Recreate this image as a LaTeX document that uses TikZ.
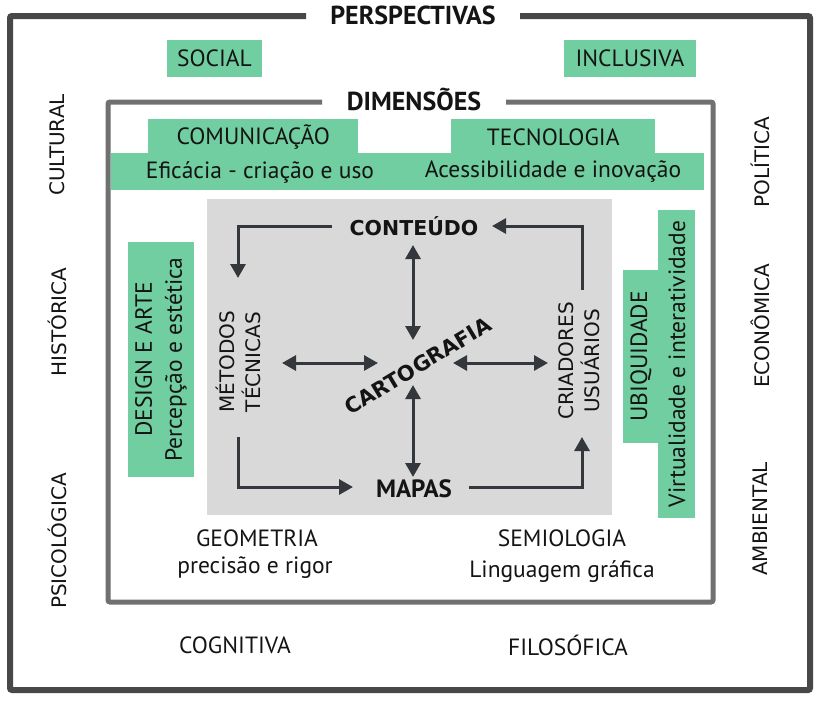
\documentclass[tikz,border=0pt]{standalone}
\usepackage{fontspec}
\setmainfont{PT Sans}
\newfontfamily\vfont{DejaVu Sans}
\usetikzlibrary{arrows.meta}
\definecolor{mint}{RGB}{112,206,160}
\definecolor{frameA}{RGB}{72,72,72}
\definecolor{frameB}{RGB}{112,112,112}
\definecolor{sq}{RGB}{217,217,217}
\definecolor{arrc}{RGB}{52,56,61}
\definecolor{txt}{RGB}{20,20,20}
\tikzset{
  gbox/.style={fill=mint, inner sep=0pt, text=txt},
  lab/.style={text=txt, font=\fontsize{23.5}{26}\selectfont, inner sep=0pt},
  vlab/.style={text=txt, font=\vfont\fontsize{20}{23}\selectfont, inner sep=0pt, rotate=90},
  ttl/.style={text=txt, font=\bfseries\fontsize{26}{28}\selectfont, inner sep=0pt},
  arr/.style={draw=arrc, line width=3pt, -{Triangle[length=14pt,width=15pt]}},
  darr/.style={draw=arrc, line width=3pt, {Triangle[length=14pt,width=15pt]}-{Triangle[length=14pt,width=15pt]}},
}
\begin{document}
\begin{tikzpicture}[x=1pt,y=-1pt]
\useasboundingbox[fill=white] (0,0) rectangle (821,705);
% outer frame
\draw[frameA, line width=6pt, rounded corners=2pt] (306,16) -- (10,16) -- (10,690) -- (810,690) -- (810,16) -- (520,16);
\node[ttl] (persp) at (413,15) {PERSPECTIVAS};
% perspectives boxes
\node[gbox, minimum width=95pt, minimum height=37pt, lab] (social) at (214.5,58.5) {SOCIAL};
\node[gbox, minimum width=132pt, minimum height=37pt, lab] (inclus) at (630,58.5) {INCLUSIVA};
\node[vlab] (cult) at (57,145) {CULTURAL};
\node[vlab] (hist) at (57,322) {HISTÓRICA};
\node[vlab] (psic) at (57,541) {PSICOLÓGICA};
\node[vlab] (polit) at (760,162) {POLÍTICA};
\node[vlab] (econ) at (760,326) {ECONÔMICA};
\node[vlab] (amb) at (760,519) {AMBIENTAL};
\node[lab] (cogn) at (235,645) {COGNITIVA};
\node[lab] (filo) at (568,645) {FILOSÓFICA};
% inner frame
\draw[frameB, line width=5pt, rounded corners=2pt] (322,102) -- (108,102) -- (108,602) -- (713,602) -- (713,102) -- (506,102);
\node[ttl] (dimen) at (414,99) {DIMENSÕES};
% top dimensions
\fill[mint] (111,153) rectangle (704,190);
\node[gbox, minimum width=210pt, minimum height=36pt, lab, anchor=north west] (comun) at (148,119) {COMUNICAÇÃO};
\node[gbox, minimum width=204pt, minimum height=36pt, lab, anchor=north west] (tecno) at (451,119) {TECNOLOGIA};
\node[lab] (efic) at (260,172) {Eficácia - criação e uso};
\node[lab] (acess) at (553,172) {Acessibilidade e inovação};
% gray square
\fill[sq] (207,199) rectangle (612,515);
% design box
\node[gbox, minimum width=235pt, minimum height=66pt, rotate=90, align=center, lab, font=\fontsize{23.5}{30}\selectfont] (design) at (161,359.5) {DESIGN E ARTE\\Percepção e estética};
% ubiquidade
\fill[mint] (623,270) rectangle (659,443);
\fill[mint] (658,210) rectangle (695,518);
\node[lab, rotate=90] (ubiq) at (641,356.5) {UBIQUIDADE};
\node[lab, rotate=90] (virt) at (677,364) {Virtualidade e interatividade};
% inner square texts
\node[text=txt, font=\vfont\bfseries\fontsize{20.5}{23}\selectfont, inner sep=0pt] (cont) at (414,226) {CONTEÚDO};
\node[text=txt, font=\bfseries\fontsize{25}{28}\selectfont, inner sep=0pt] (mapas) at (414,489) {MAPAS};
\node[text=txt, font=\vfont\bfseries\fontsize{21}{24}\selectfont, inner sep=0pt, rotate=31] (carto) at (418,366) {CARTOGRAFIA};
\node[vlab, align=center, font=\vfont\fontsize{20}{26}\selectfont] (metod) at (238,362) {MÉTODOS\\TÉCNICAS};
\node[vlab, align=center, font=\vfont\fontsize{20}{26}\selectfont] (criad) at (579,361) {CRIADORES\\USUÁRIOS};
% arrows
\coordinate (c1a) at (332,226); \coordinate (c1b) at (238,278);
\draw[arr] (c1a) -| (c1b);
\coordinate (c2a) at (238,437); \coordinate (c2b) at (353,487);
\draw[arr] (c2a) |- (c2b);
\coordinate (c3a) at (469,487); \coordinate (c3b) at (582,437);
\draw[arr] (c3a) -| (c3b);
\coordinate (c4a) at (582,290); \coordinate (c4b) at (492,226);
\draw[arr] (c4a) |- (c4b);
\coordinate (v1a) at (413,245); \coordinate (v1b) at (413,340);
\draw[darr] (v1a) -- (v1b);
\coordinate (v2a) at (413,385); \coordinate (v2b) at (413,477);
\draw[darr] (v2a) -- (v2b);
\coordinate (h1a) at (282,363); \coordinate (h1b) at (378,363);
\draw[darr] (h1a) -- (h1b);
\coordinate (h2a) at (453,363); \coordinate (h2b) at (548,363);
\draw[darr] (h2a) -- (h2b);
% bottom texts
\node[lab] (geom) at (257,538) {GEOMETRIA};
\node[lab] (prec) at (255,568) {precisão e rigor};
\node[lab] (semio) at (562,538) {SEMIOLOGIA};
\node[lab] (ling) at (562,572) {Linguagem gráfica};
\end{tikzpicture}
\end{document}
